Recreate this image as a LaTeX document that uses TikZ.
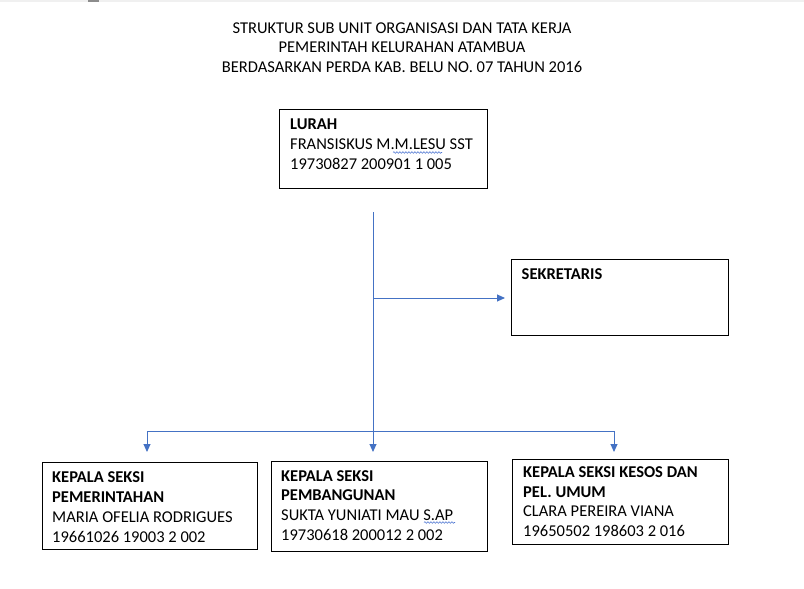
\documentclass[tikz,border=0pt]{standalone}
\usepackage{fontspec}
\setmainfont{Carlito}
\usetikzlibrary{arrows.meta,decorations.pathmorphing}
\definecolor{conncol}{RGB}{68,114,196}
\definecolor{spellcol}{RGB}{80,120,210}
\tikzset{
  box/.style={draw=black,line width=1.2pt,minimum width=#1,inner sep=0,anchor=north west},
  txt/.style={font=\fontsize{16.5}{19.7}\selectfont,align=left,inner sep=0,anchor=north west},
  conn/.style={draw=conncol,line width=1pt,-{Triangle[length=8pt,width=7pt]}},
  bus/.style={draw=conncol,line width=1pt},
  squig/.style={draw=spellcol,line width=0.6pt,decorate,decoration={snake,amplitude=0.8pt,segment length=3pt}}
}
\newcommand{\fl}{\rule{0pt}{14pt}}
\begin{document}
\begin{tikzpicture}[x=1pt,y=-1pt]
\useasboundingbox (0,0) rectangle (804,589);
\fill[black!6] (0,0) rectangle (804,2);
\fill[black!45] (88,0) rectangle (99,2);
% title
\node[txt,anchor=north,align=center] (title) at (402,19) {\fl STRUKTUR SUB UNIT ORGANISASI DAN TATA KERJA\\PEMERINTAH KELURAHAN ATAMBUA\\BERDASARKAN PERDA KAB. BELU NO. 07 TAHUN 2016};
% boxes
\node[box=208pt,minimum height=79pt] (lurah) at (279,108.5) {};
\node[txt] (lurahT) at (290,115.5) {\fl\textbf{LURAH}\\FRANSISKUS M.M.LESU SST\\19730827 200901 1 005};
\node[box=217pt,minimum height=76pt] (sek) at (511,259) {};
\node[txt] (sekT) at (521.5,265.3) {\fl\textbf{SEKRETARIS}};
\node[box=215pt,minimum height=87pt] (kp1) at (42,462) {};
\node[txt] (kp1T) at (52,468.7) {\fl\textbf{KEPALA SEKSI}\\\textbf{PEMERINTAHAN}\\MARIA OFELIA RODRIGUES\\19661026 19003 2 002};
\node[box=216pt,minimum height=90pt] (kp2) at (271,461) {};
\node[txt] (kp2T) at (281,467) {\fl\textbf{KEPALA SEKSI}\\\textbf{PEMBANGUNAN}\\SUKTA YUNIATI MAU S.AP\\19730618 200012 2 002};
\node[box=216pt,minimum height=85pt] (kp3) at (512,459) {};
\node[txt] (kp3T) at (523,463.3) {\fl\textbf{KEPALA SEKSI KESOS DAN}\\\textbf{PEL. UMUM}\\CLARA PEREIRA VIANA\\19650502 198603 2 016};
% spell-check squiggles
\coordinate (sqA1) at (393,152.5); \coordinate (sqA2) at (442,152.5);
\draw[squig] (sqA1) -- (sqA2);
\coordinate (sqB1) at (424,522.5); \coordinate (sqB2) at (455,522.5);
\draw[squig] (sqB1) -- (sqB2);
% connectors
\coordinate (trunk) at (373,212);
\coordinate (sekJ) at (373,298);
\coordinate (b1) at (147,431);
\coordinate (b2) at (373,431);
\coordinate (b3) at (614,431);
\draw[conn,shorten >=9pt] (trunk) -- (trunk |- kp2.north);
\draw[conn,shorten >=6pt] (sekJ) -- (sekJ -| sek.west);
\draw[bus] (b1) -- (b3);
\draw[conn,shorten >=10pt] (b1) -- (b1 |- kp1.north);
\draw[conn,shorten >=7pt] (b3) -- (b3 |- kp3.north);
\end{tikzpicture}
\end{document}
